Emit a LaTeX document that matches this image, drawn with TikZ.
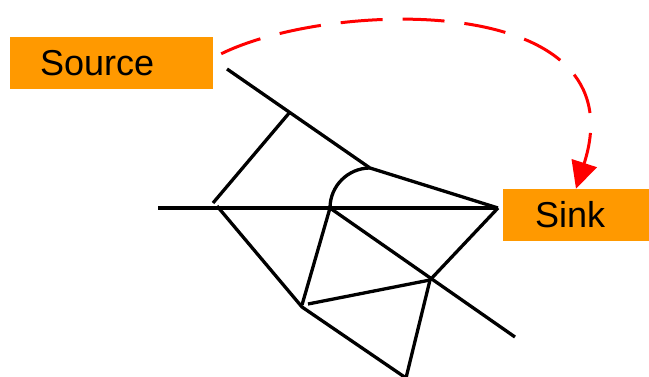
\documentclass[tikz,border=0pt]{standalone}
\usepackage{fontspec}
\setmainfont{Liberation Sans}
\usetikzlibrary{arrows.meta}
\definecolor{boxorange}{HTML}{FF9900}
\begin{document}
\begin{tikzpicture}[x=1pt,y=-1pt,
  box/.style={fill=boxorange, inner sep=0pt, minimum height=52pt, font=\fontsize{36}{40}\selectfont},
  edge/.style={line width=3.3pt, black},
  flow/.style={red, line width=3pt, dash pattern=on 42pt off 20pt, -{Triangle[length=27pt,width=26pt]}}]
\useasboundingbox (0,0) rectangle (649,376);
\node[box] (source) at (111.5,63) {\makebox[203pt][l]{\hspace{30pt}Source}};
\node[box] (sink) at (576,215) {\makebox[146pt][l]{\hspace{32pt}Sink}};
\coordinate (A) at (227,69);
\coordinate (B) at (290,112);
\coordinate (C) at (370,168);
\coordinate (D) at (498,208);
\coordinate (L) at (158,208);
\coordinate (Eb) at (213,203);
\coordinate (Ea) at (217,206);
\coordinate (F) at (330,208);
\coordinate (G) at (302,307);
\coordinate (Gt) at (302,305);
\coordinate (H) at (406,378);
\coordinate (I) at (430,280);
\coordinate (K) at (308,304);
\coordinate (J) at (515,337);
\draw[edge] (A) -- (C) -- (D);
\draw[edge] (L) -- (D);
\draw[edge] (B) -- (Eb);
\draw[edge] (Ea) -- (G) -- (H) -- (I) -- (D);
\draw[edge] (K) -- (I);
\draw[edge] (F) -- (Gt);
\draw[edge] (F) -- (J);
\draw[edge] (F) .. controls (330,186) and (348,168) .. (C);
\draw[flow] ([xshift=8pt,yshift=-17pt]source.north east) .. controls (330,0) and (640,-10) .. (sink.north);
\end{tikzpicture}
\end{document}
